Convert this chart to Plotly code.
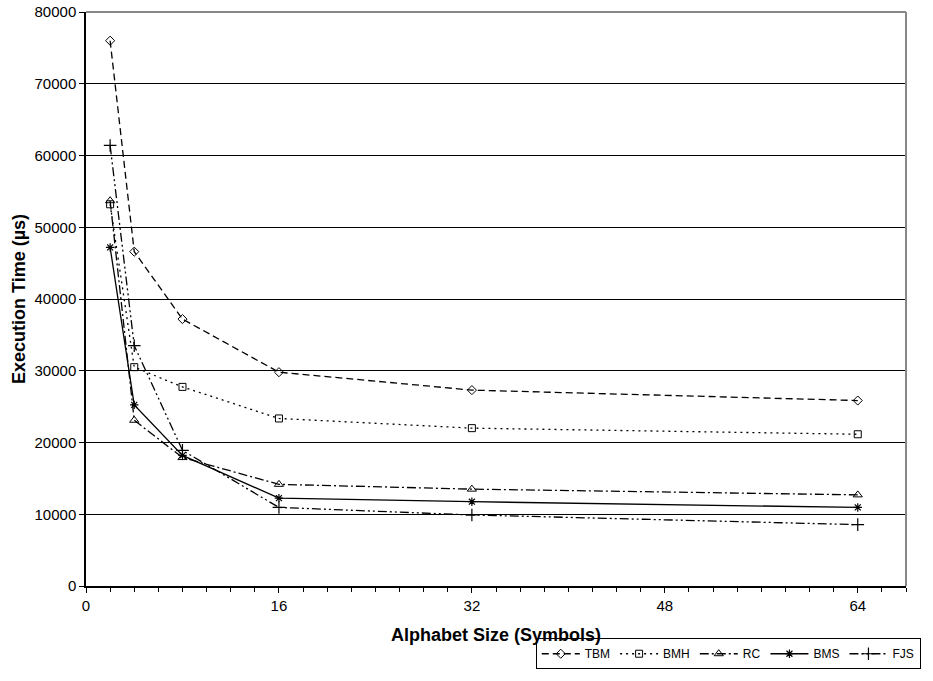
import plotly.graph_objects as go

alphabet = [2, 4, 8, 16, 32, 64]
tbm = [76000, 46600, 37200, 29800, 27300, 25850]
bmh = [53200, 30500, 27750, 23350, 22000, 21150]
rc = [53700, 23100, 17900, 14170, 13500, 12700]
bms = [47200, 25250, 18200, 12250, 11750, 10950]
fjs = [61400, 33500, 18900, 10950, 9900, 8550]

series = [
    ("TBM", tbm, "7px,4px", "diamond-open", 7, 1.0),
    ("BMH", bmh, "2px,4px", "square-open", 7, 1.0),
    ("RC", rc, "9px,3px,2px,3px", "triangle-up-open", 8, 1.0),
    ("BMS", bms, "solid", "asterisk-open", 7, 1.2),
    ("FJS", fjs, "9px,3px,2px,3px,2px,3px", "cross-thin-open", 9, 1.2),
]

fig = go.Figure()
for name, vals, dash, sym, size, mlw in series:
    fig.add_trace(go.Scatter(
        x=alphabet, y=vals, name=name, mode="lines+markers",
        line=dict(color="black", width=1.3, dash=dash),
        marker=dict(symbol=sym, size=size, color="black",
                    line=dict(color="black", width=mlw)),
    ))

fig.update_layout(
    width=933, height=681,
    margin=dict(l=86, r=16, t=12, b=85),
    paper_bgcolor="white", plot_bgcolor="white",
    font=dict(family="Liberation Sans, Arial", size=15, color="black"),
    showlegend=True,
    legend=dict(orientation="h", x=1.018, xanchor="right", y=-0.145, yanchor="bottom",
                bordercolor="black", borderwidth=1, font=dict(size=12),
                itemwidth=38, tracegroupgap=0),
    xaxis=dict(
        range=[0, 68], tickvals=[0, 16, 32, 48, 64], showgrid=False, zeroline=False,
        showline=True, linecolor="black", linewidth=1.5, mirror=False,
        ticks="outside", ticklen=5, tickcolor="black", automargin=False,
        minor=dict(dtick=2, ticks="outside", ticklen=4, tickcolor="black", showgrid=False),
        title=dict(text="<b>Alphabet Size (Symbols)</b>", font=dict(size=18), standoff=16),
    ),
    yaxis=dict(
        range=[0, 80000], dtick=10000, showgrid=True, gridcolor="black", gridwidth=1,
        zeroline=False, showline=True, linecolor="black", linewidth=1.5,
        ticks="outside", ticklen=5, tickcolor="black", tickformat="d", automargin=False,
        title=dict(text="<b>Execution Time (µs)</b>", font=dict(size=18), standoff=4),
    ),
    shapes=[
        dict(type="line", xref="paper", yref="paper", x0=0, x1=1, y0=1, y1=1,
             line=dict(color="#888888", width=2)),
        dict(type="line", xref="paper", yref="paper", x0=1, x1=1, y0=0, y1=1,
             line=dict(color="#888888", width=2)),
    ],
)

post = (
    "document.body.style.margin='0px';"
    "document.body.style.overflow='hidden';"
)

fig.write_html("out.html", config={"displayModeBar": False}, post_script=post)
